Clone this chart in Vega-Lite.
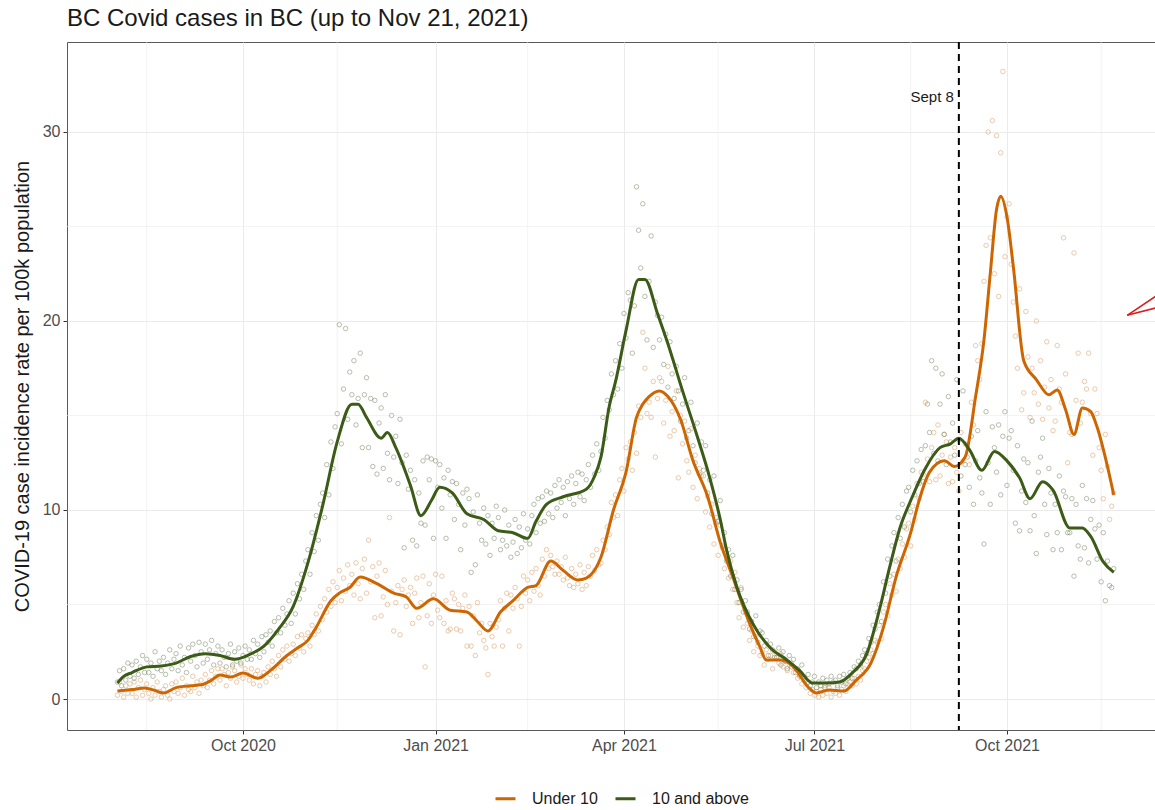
{
  "$schema": "https://vega.github.io/schema/vega-lite/v6.json",
  "width": 1088,
  "height": 688,
  "autosize": "none",
  "padding": {"left": 67, "top": 42, "right": 0, "bottom": 80},
  "background": "white",
  "config": {
    "font": "Liberation Sans",
    "view": {"stroke": "#595959", "strokeWidth": 1},
    "axis": {
      "grid": true,
      "gridColor": "#ebebeb",
      "gridWidth": 1,
      "domain": false,
      "tickColor": "#333333",
      "tickSize": 4,
      "labelFontSize": 16,
      "labelColor": "#4d4d4d",
      "labelPadding": 3,
      "titleFontSize": 20,
      "titleFontWeight": "normal",
      "titleColor": "#1a1a1a"
    }
  },
  "title": {
    "text": "BC Covid cases in BC (up to Nov 21, 2021)",
    "anchor": "start",
    "frame": "group",
    "fontSize": 24,
    "fontWeight": "normal",
    "color": "#1a1a1a",
    "offset": 10
  },
  "datasets": {
    "daily": [
      {"date":"2020-08-02","under10":0.2,"above10":0.9},
      {"date":"2020-08-03","under10":0.9,"above10":1.5},
      {"date":"2020-08-04","under10":0.4,"above10":0.7},
      {"date":"2020-08-05","under10":0.1,"above10":1.6},
      {"date":"2020-08-06","under10":0.7,"above10":1.0},
      {"date":"2020-08-07","under10":0.3,"above10":1.9},
      {"date":"2020-08-08","under10":0.8,"above10":1.2},
      {"date":"2020-08-09","under10":0.3,"above10":1.8},
      {"date":"2020-08-10","under10":0.9,"above10":1.1},
      {"date":"2020-08-11","under10":0.1,"above10":2.0},
      {"date":"2020-08-12","under10":0.6,"above10":1.3},
      {"date":"2020-08-13","under10":1.0,"above10":1.7},
      {"date":"2020-08-14","under10":0.2,"above10":2.3},
      {"date":"2020-08-15","under10":0.5,"above10":1.4},
      {"date":"2020-08-16","under10":0.8,"above10":2.1},
      {"date":"2020-08-17","under10":0.3,"above10":1.4},
      {"date":"2020-08-18","under10":0.0,"above10":1.9},
      {"date":"2020-08-19","under10":0.6,"above10":1.2},
      {"date":"2020-08-20","under10":0.2,"above10":2.5},
      {"date":"2020-08-21","under10":0.9,"above10":1.6},
      {"date":"2020-08-22","under10":0.4,"above10":2.0},
      {"date":"2020-08-23","under10":0.1,"above10":1.5},
      {"date":"2020-08-24","under10":0.5,"above10":2.2},
      {"date":"2020-08-25","under10":0.7,"above10":1.3},
      {"date":"2020-08-26","under10":0.2,"above10":1.9},
      {"date":"2020-08-27","under10":0.0,"above10":2.6},
      {"date":"2020-08-28","under10":0.8,"above10":1.6},
      {"date":"2020-08-29","under10":0.4,"above10":2.1},
      {"date":"2020-08-30","under10":0.9,"above10":2.4},
      {"date":"2020-08-31","under10":0.3,"above10":1.5},
      {"date":"2020-09-01","under10":0.6,"above10":2.8},
      {"date":"2020-09-02","under10":1.1,"above10":1.8},
      {"date":"2020-09-03","under10":0.2,"above10":2.2},
      {"date":"2020-09-04","under10":0.7,"above10":1.4},
      {"date":"2020-09-05","under10":0.5,"above10":2.7},
      {"date":"2020-09-06","under10":0.4,"above10":2.0},
      {"date":"2020-09-07","under10":1.2,"above10":2.9},
      {"date":"2020-09-08","under10":0.6,"above10":2.3},
      {"date":"2020-09-09","under10":0.9,"above10":1.7},
      {"date":"2020-09-10","under10":0.3,"above10":3.0},
      {"date":"2020-09-11","under10":1.0,"above10":2.5},
      {"date":"2020-09-12","under10":0.7,"above10":1.9},
      {"date":"2020-09-13","under10":1.3,"above10":2.9},
      {"date":"2020-09-14","under10":0.6,"above10":2.1},
      {"date":"2020-09-15","under10":1.0,"above10":2.6},
      {"date":"2020-09-16","under10":1.5,"above10":3.1},
      {"date":"2020-09-17","under10":0.8,"above10":1.8},
      {"date":"2020-09-18","under10":1.2,"above10":2.4},
      {"date":"2020-09-19","under10":1.6,"above10":2.8},
      {"date":"2020-09-20","under10":1.0,"above10":1.9},
      {"date":"2020-09-21","under10":1.6,"above10":2.6},
      {"date":"2020-09-22","under10":1.3,"above10":2.2},
      {"date":"2020-09-23","under10":0.7,"above10":1.7},
      {"date":"2020-09-24","under10":1.4,"above10":2.4},
      {"date":"2020-09-25","under10":1.1,"above10":2.9},
      {"date":"2020-09-26","under10":1.7,"above10":1.8},
      {"date":"2020-09-27","under10":1.5,"above10":2.5},
      {"date":"2020-09-28","under10":0.9,"above10":2.0},
      {"date":"2020-09-29","under10":1.2,"above10":2.7},
      {"date":"2020-09-30","under10":1.8,"above10":1.9},
      {"date":"2020-10-01","under10":1.1,"above10":2.3},
      {"date":"2020-10-02","under10":1.6,"above10":2.8},
      {"date":"2020-10-03","under10":1.3,"above10":2.1},
      {"date":"2020-10-04","under10":1.0,"above10":2.6},
      {"date":"2020-10-05","under10":1.6,"above10":2.1},
      {"date":"2020-10-06","under10":0.8,"above10":3.1},
      {"date":"2020-10-07","under10":1.3,"above10":2.4},
      {"date":"2020-10-08","under10":1.5,"above10":2.9},
      {"date":"2020-10-09","under10":0.7,"above10":2.2},
      {"date":"2020-10-10","under10":1.2,"above10":3.3},
      {"date":"2020-10-11","under10":1.4,"above10":2.5},
      {"date":"2020-10-12","under10":0.9,"above10":3.4},
      {"date":"2020-10-13","under10":1.7,"above10":3.0},
      {"date":"2020-10-14","under10":1.3,"above10":3.6},
      {"date":"2020-10-15","under10":2.0,"above10":2.8},
      {"date":"2020-10-16","under10":1.6,"above10":4.1},
      {"date":"2020-10-17","under10":1.2,"above10":3.5},
      {"date":"2020-10-18","under10":2.3,"above10":4.3},
      {"date":"2020-10-19","under10":1.7,"above10":3.5},
      {"date":"2020-10-20","under10":2.6,"above10":4.8},
      {"date":"2020-10-21","under10":2.1,"above10":3.9},
      {"date":"2020-10-22","under10":2.8,"above10":4.5},
      {"date":"2020-10-23","under10":2.0,"above10":5.2},
      {"date":"2020-10-24","under10":2.4,"above10":4.0},
      {"date":"2020-10-25","under10":2.9,"above10":5.6},
      {"date":"2020-10-26","under10":2.3,"above10":4.5},
      {"date":"2020-10-27","under10":3.3,"above10":6.1},
      {"date":"2020-10-28","under10":2.7,"above10":5.3},
      {"date":"2020-10-29","under10":3.4,"above10":6.6},
      {"date":"2020-10-30","under10":2.5,"above10":5.8},
      {"date":"2020-10-31","under10":3.2,"above10":7.3},
      {"date":"2020-11-01","under10":3.5,"above10":7.9},
      {"date":"2020-11-02","under10":2.8,"above10":6.6},
      {"date":"2020-11-03","under10":3.9,"above10":8.8},
      {"date":"2020-11-04","under10":3.4,"above10":7.8},
      {"date":"2020-11-05","under10":4.5,"above10":9.7},
      {"date":"2020-11-06","under10":3.6,"above10":8.4},
      {"date":"2020-11-07","under10":4.9,"above10":10.3},
      {"date":"2020-11-08","under10":4.2,"above10":10.9},
      {"date":"2020-11-09","under10":5.3,"above10":9.6},
      {"date":"2020-11-10","under10":4.6,"above10":12.4},
      {"date":"2020-11-11","under10":5.8,"above10":10.8},
      {"date":"2020-11-12","under10":4.9,"above10":13.6},
      {"date":"2020-11-13","under10":6.2,"above10":12.2},
      {"date":"2020-11-14","under10":5.1,"above10":14.4},
      {"date":"2020-11-15","under10":5.9,"above10":15.1},
      {"date":"2020-11-16","under10":6.8,"above10":19.8},
      {"date":"2020-11-17","under10":5.2,"above10":13.5},
      {"date":"2020-11-18","under10":6.4,"above10":16.4},
      {"date":"2020-11-19","under10":5.7,"above10":19.6},
      {"date":"2020-11-20","under10":7.1,"above10":14.8},
      {"date":"2020-11-21","under10":6.0,"above10":17.3},
      {"date":"2020-11-22","under10":6.6,"above10":16.1},
      {"date":"2020-11-23","under10":5.5,"above10":17.9},
      {"date":"2020-11-24","under10":7.2,"above10":14.5},
      {"date":"2020-11-25","under10":6.1,"above10":15.9},
      {"date":"2020-11-26","under10":5.3,"above10":18.3},
      {"date":"2020-11-27","under10":6.9,"above10":13.3},
      {"date":"2020-11-28","under10":7.4,"above10":16.1},
      {"date":"2020-11-29","under10":5.6,"above10":17.0},
      {"date":"2020-11-30","under10":8.4,"above10":13.3},
      {"date":"2020-12-01","under10":6.2,"above10":15.9},
      {"date":"2020-12-02","under10":7.0,"above10":12.3},
      {"date":"2020-12-03","under10":4.3,"above10":15.8},
      {"date":"2020-12-04","under10":6.5,"above10":11.9},
      {"date":"2020-12-05","under10":7.2,"above10":14.6},
      {"date":"2020-12-06","under10":4.4,"above10":15.4},
      {"date":"2020-12-07","under10":5.4,"above10":12.2},
      {"date":"2020-12-08","under10":6.8,"above10":16.1},
      {"date":"2020-12-09","under10":5.0,"above10":13.0},
      {"date":"2020-12-10","under10":9.6,"above10":11.6},
      {"date":"2020-12-11","under10":5.7,"above10":15.0},
      {"date":"2020-12-12","under10":3.6,"above10":12.8},
      {"date":"2020-12-13","under10":5.1,"above10":13.9},
      {"date":"2020-12-14","under10":6.0,"above10":11.4},
      {"date":"2020-12-15","under10":3.4,"above10":14.8},
      {"date":"2020-12-16","under10":5.8,"above10":12.5},
      {"date":"2020-12-17","under10":6.3,"above10":8.0},
      {"date":"2020-12-18","under10":4.9,"above10":12.9},
      {"date":"2020-12-19","under10":5.5,"above10":11.1},
      {"date":"2020-12-20","under10":5.9,"above10":12.1},
      {"date":"2020-12-21","under10":4.0,"above10":8.4},
      {"date":"2020-12-22","under10":5.6,"above10":11.6},
      {"date":"2020-12-23","under10":6.4,"above10":8.1},
      {"date":"2020-12-24","under10":4.3,"above10":10.9},
      {"date":"2020-12-25","under10":5.1,"above10":9.3},
      {"date":"2020-12-26","under10":6.5,"above10":12.6},
      {"date":"2020-12-27","under10":1.7,"above10":9.2},
      {"date":"2020-12-28","under10":4.4,"above10":12.8},
      {"date":"2020-12-29","under10":6.1,"above10":11.6},
      {"date":"2020-12-30","under10":4.0,"above10":12.7},
      {"date":"2020-12-31","under10":5.5,"above10":8.5},
      {"date":"2021-01-01","under10":6.6,"above10":12.6},
      {"date":"2021-01-02","under10":4.7,"above10":11.2},
      {"date":"2021-01-03","under10":4.3,"above10":12.4},
      {"date":"2021-01-04","under10":6.5,"above10":10.1},
      {"date":"2021-01-05","under10":4.0,"above10":11.7},
      {"date":"2021-01-06","under10":5.2,"above10":8.5},
      {"date":"2021-01-07","under10":3.6,"above10":12.1},
      {"date":"2021-01-08","under10":3.7,"above10":10.8},
      {"date":"2021-01-09","under10":5.6,"above10":11.5},
      {"date":"2021-01-10","under10":5.3,"above10":9.5},
      {"date":"2021-01-11","under10":3.7,"above10":11.4},
      {"date":"2021-01-12","under10":5.0,"above10":10.3},
      {"date":"2021-01-13","under10":3.6,"above10":7.9},
      {"date":"2021-01-14","under10":4.8,"above10":10.9},
      {"date":"2021-01-15","under10":5.5,"above10":9.2},
      {"date":"2021-01-16","under10":2.8,"above10":11.1},
      {"date":"2021-01-17","under10":4.9,"above10":10.6},
      {"date":"2021-01-18","under10":2.8,"above10":6.7},
      {"date":"2021-01-19","under10":4.4,"above10":9.9},
      {"date":"2021-01-20","under10":2.3,"above10":7.1},
      {"date":"2021-01-21","under10":5.1,"above10":10.8},
      {"date":"2021-01-22","under10":3.5,"above10":9.3},
      {"date":"2021-01-23","under10":4.0,"above10":8.4},
      {"date":"2021-01-24","under10":3.1,"above10":10.1},
      {"date":"2021-01-25","under10":2.7,"above10":8.2},
      {"date":"2021-01-26","under10":1.3,"above10":9.7},
      {"date":"2021-01-27","under10":4.0,"above10":7.6},
      {"date":"2021-01-28","under10":3.3,"above10":9.3},
      {"date":"2021-01-29","under10":2.8,"above10":8.5},
      {"date":"2021-01-30","under10":3.8,"above10":10.2},
      {"date":"2021-01-31","under10":4.2,"above10":9.6},
      {"date":"2021-02-01","under10":5.2,"above10":7.9},
      {"date":"2021-02-02","under10":2.8,"above10":8.4},
      {"date":"2021-02-03","under10":4.8,"above10":10.0},
      {"date":"2021-02-04","under10":5.6,"above10":8.1},
      {"date":"2021-02-05","under10":3.6,"above10":9.2},
      {"date":"2021-02-06","under10":5.5,"above10":7.5},
      {"date":"2021-02-07","under10":4.8,"above10":8.3},
      {"date":"2021-02-08","under10":5.9,"above10":9.5},
      {"date":"2021-02-09","under10":5.3,"above10":7.7},
      {"date":"2021-02-10","under10":2.8,"above10":9.1},
      {"date":"2021-02-11","under10":4.9,"above10":8.0},
      {"date":"2021-02-12","under10":6.5,"above10":9.8},
      {"date":"2021-02-13","under10":5.6,"above10":8.4},
      {"date":"2021-02-14","under10":6.3,"above10":9.0},
      {"date":"2021-02-15","under10":5.2,"above10":8.2},
      {"date":"2021-02-16","under10":6.7,"above10":9.7},
      {"date":"2021-02-17","under10":5.7,"above10":10.3},
      {"date":"2021-02-18","under10":6.9,"above10":8.8},
      {"date":"2021-02-19","under10":6.0,"above10":10.6},
      {"date":"2021-02-20","under10":5.5,"above10":9.3},
      {"date":"2021-02-21","under10":7.4,"above10":10.7},
      {"date":"2021-02-22","under10":6.5,"above10":9.4},
      {"date":"2021-02-23","under10":7.9,"above10":11.0},
      {"date":"2021-02-24","under10":6.9,"above10":9.8},
      {"date":"2021-02-25","under10":7.6,"above10":10.9},
      {"date":"2021-02-26","under10":7.0,"above10":9.6},
      {"date":"2021-02-27","under10":6.6,"above10":11.3},
      {"date":"2021-02-28","under10":7.3,"above10":10.1},
      {"date":"2021-03-01","under10":6.6,"above10":11.6},
      {"date":"2021-03-02","under10":7.0,"above10":10.4},
      {"date":"2021-03-03","under10":6.3,"above10":11.2},
      {"date":"2021-03-04","under10":7.5,"above10":9.7},
      {"date":"2021-03-05","under10":6.4,"above10":11.5},
      {"date":"2021-03-06","under10":6.0,"above10":10.6},
      {"date":"2021-03-07","under10":6.9,"above10":11.8},
      {"date":"2021-03-08","under10":5.9,"above10":10.3},
      {"date":"2021-03-09","under10":6.6,"above10":11.4},
      {"date":"2021-03-10","under10":6.1,"above10":12.0},
      {"date":"2021-03-11","under10":7.1,"above10":10.7},
      {"date":"2021-03-12","under10":5.8,"above10":11.9},
      {"date":"2021-03-13","under10":6.7,"above10":10.5},
      {"date":"2021-03-14","under10":6.0,"above10":11.6},
      {"date":"2021-03-15","under10":7.0,"above10":12.4},
      {"date":"2021-03-16","under10":6.5,"above10":11.2},
      {"date":"2021-03-17","under10":7.6,"above10":12.9},
      {"date":"2021-03-18","under10":6.8,"above10":11.9},
      {"date":"2021-03-19","under10":7.9,"above10":13.5},
      {"date":"2021-03-20","under10":7.1,"above10":12.1},
      {"date":"2021-03-21","under10":7.2,"above10":13.1},
      {"date":"2021-03-22","under10":8.4,"above10":14.9},
      {"date":"2021-03-23","under10":7.9,"above10":13.8},
      {"date":"2021-03-24","under10":9.1,"above10":15.8},
      {"date":"2021-03-25","under10":8.7,"above10":15.3},
      {"date":"2021-03-26","under10":10.4,"above10":17.2},
      {"date":"2021-03-27","under10":9.6,"above10":16.1},
      {"date":"2021-03-28","under10":10.8,"above10":17.9},
      {"date":"2021-03-29","under10":9.7,"above10":16.4},
      {"date":"2021-03-30","under10":11.6,"above10":18.8},
      {"date":"2021-03-31","under10":12.2,"above10":17.5},
      {"date":"2021-04-01","under10":11.0,"above10":20.4},
      {"date":"2021-04-02","under10":13.3,"above10":19.1},
      {"date":"2021-04-03","under10":12.7,"above10":21.5},
      {"date":"2021-04-04","under10":13.6,"above10":21.1},
      {"date":"2021-04-05","under10":12.1,"above10":18.3},
      {"date":"2021-04-06","under10":14.1,"above10":20.8},
      {"date":"2021-04-07","under10":13.0,"above10":27.1},
      {"date":"2021-04-08","under10":15.5,"above10":24.8},
      {"date":"2021-04-09","under10":14.9,"above10":22.8},
      {"date":"2021-04-10","under10":19.4,"above10":26.2},
      {"date":"2021-04-11","under10":17.5,"above10":21.3},
      {"date":"2021-04-12","under10":15.1,"above10":19.0},
      {"date":"2021-04-13","under10":15.7,"above10":22.1},
      {"date":"2021-04-14","under10":14.9,"above10":24.5},
      {"date":"2021-04-15","under10":16.8,"above10":18.6},
      {"date":"2021-04-16","under10":12.8,"above10":21.0},
      {"date":"2021-04-17","under10":15.9,"above10":20.3},
      {"date":"2021-04-18","under10":17.0,"above10":19.0},
      {"date":"2021-04-19","under10":16.8,"above10":20.2},
      {"date":"2021-04-20","under10":14.6,"above10":17.7},
      {"date":"2021-04-21","under10":15.8,"above10":19.3},
      {"date":"2021-04-22","under10":17.6,"above10":16.5},
      {"date":"2021-04-23","under10":13.9,"above10":18.9},
      {"date":"2021-04-24","under10":15.2,"above10":17.2},
      {"date":"2021-04-25","under10":14.2,"above10":15.9},
      {"date":"2021-04-26","under10":16.3,"above10":17.6},
      {"date":"2021-04-27","under10":11.7,"above10":16.3},
      {"date":"2021-04-28","under10":15.0,"above10":14.7},
      {"date":"2021-04-29","under10":13.5,"above10":15.6},
      {"date":"2021-04-30","under10":14.7,"above10":17.0},
      {"date":"2021-05-01","under10":12.6,"above10":13.8},
      {"date":"2021-05-02","under10":12.0,"above10":14.2},
      {"date":"2021-05-03","under10":14.3,"above10":15.7},
      {"date":"2021-05-04","under10":11.2,"above10":13.4},
      {"date":"2021-05-05","under10":12.9,"above10":12.5},
      {"date":"2021-05-06","under10":10.6,"above10":14.6},
      {"date":"2021-05-07","under10":12.2,"above10":11.9},
      {"date":"2021-05-08","under10":11.8,"above10":13.6},
      {"date":"2021-05-09","under10":11.8,"above10":12.1},
      {"date":"2021-05-10","under10":9.9,"above10":13.4},
      {"date":"2021-05-11","under10":10.7,"above10":10.9},
      {"date":"2021-05-12","under10":9.1,"above10":11.6},
      {"date":"2021-05-13","under10":10.3,"above10":9.8},
      {"date":"2021-05-14","under10":8.2,"above10":11.8},
      {"date":"2021-05-15","under10":9.6,"above10":9.3},
      {"date":"2021-05-16","under10":7.6,"above10":9.4},
      {"date":"2021-05-17","under10":9.2,"above10":10.5},
      {"date":"2021-05-18","under10":8.0,"above10":8.1},
      {"date":"2021-05-19","under10":6.9,"above10":8.8},
      {"date":"2021-05-20","under10":7.7,"above10":7.3},
      {"date":"2021-05-21","under10":6.4,"above10":7.9},
      {"date":"2021-05-22","under10":7.3,"above10":6.5},
      {"date":"2021-05-23","under10":5.8,"above10":7.6},
      {"date":"2021-05-24","under10":6.7,"above10":5.8},
      {"date":"2021-05-25","under10":5.1,"above10":6.3},
      {"date":"2021-05-26","under10":4.3,"above10":5.1},
      {"date":"2021-05-27","under10":5.9,"above10":5.8},
      {"date":"2021-05-28","under10":3.8,"above10":4.6},
      {"date":"2021-05-29","under10":4.6,"above10":5.2},
      {"date":"2021-05-30","under10":4.0,"above10":4.6},
      {"date":"2021-05-31","under10":3.1,"above10":3.7},
      {"date":"2021-06-01","under10":3.6,"above10":4.1},
      {"date":"2021-06-02","under10":2.5,"above10":3.3},
      {"date":"2021-06-03","under10":3.3,"above10":4.4},
      {"date":"2021-06-04","under10":2.8,"above10":3.0},
      {"date":"2021-06-05","under10":2.3,"above10":3.6},
      {"date":"2021-06-06","under10":2.4,"above10":3.5},
      {"date":"2021-06-07","under10":1.8,"above10":2.8},
      {"date":"2021-06-08","under10":2.6,"above10":3.1},
      {"date":"2021-06-09","under10":2.1,"above10":2.3},
      {"date":"2021-06-10","under10":2.3,"above10":2.9},
      {"date":"2021-06-11","under10":1.6,"above10":2.6},
      {"date":"2021-06-12","under10":2.5,"above10":2.2},
      {"date":"2021-06-13","under10":2.2,"above10":2.2},
      {"date":"2021-06-14","under10":1.9,"above10":2.7},
      {"date":"2021-06-15","under10":2.4,"above10":1.8},
      {"date":"2021-06-16","under10":1.7,"above10":2.5},
      {"date":"2021-06-17","under10":2.0,"above10":2.0},
      {"date":"2021-06-18","under10":1.5,"above10":1.6},
      {"date":"2021-06-19","under10":1.8,"above10":2.3},
      {"date":"2021-06-20","under10":1.9,"above10":1.7},
      {"date":"2021-06-21","under10":1.4,"above10":2.1},
      {"date":"2021-06-22","under10":1.6,"above10":1.4},
      {"date":"2021-06-23","under10":1.1,"above10":1.6},
      {"date":"2021-06-24","under10":1.3,"above10":1.2},
      {"date":"2021-06-25","under10":0.8,"above10":1.8},
      {"date":"2021-06-26","under10":1.0,"above10":1.1},
      {"date":"2021-06-27","under10":0.6,"above10":1.0},
      {"date":"2021-06-28","under10":0.9,"above10":1.3},
      {"date":"2021-06-29","under10":0.3,"above10":0.7},
      {"date":"2021-06-30","under10":0.5,"above10":0.9},
      {"date":"2021-07-01","under10":0.2,"above10":1.2},
      {"date":"2021-07-02","under10":0.4,"above10":0.6},
      {"date":"2021-07-03","under10":0.1,"above10":0.9},
      {"date":"2021-07-04","under10":0.5,"above10":0.7},
      {"date":"2021-07-05","under10":0.2,"above10":1.1},
      {"date":"2021-07-06","under10":0.7,"above10":0.6},
      {"date":"2021-07-07","under10":0.3,"above10":1.0},
      {"date":"2021-07-08","under10":0.6,"above10":0.8},
      {"date":"2021-07-09","under10":0.1,"above10":1.2},
      {"date":"2021-07-10","under10":0.4,"above10":0.9},
      {"date":"2021-07-11","under10":0.3,"above10":1.0},
      {"date":"2021-07-12","under10":0.6,"above10":0.7},
      {"date":"2021-07-13","under10":0.2,"above10":1.2},
      {"date":"2021-07-14","under10":0.5,"above10":0.9},
      {"date":"2021-07-15","under10":0.7,"above10":1.3},
      {"date":"2021-07-16","under10":0.4,"above10":0.8},
      {"date":"2021-07-17","under10":0.8,"above10":1.1},
      {"date":"2021-07-18","under10":0.9,"above10":1.4},
      {"date":"2021-07-19","under10":0.7,"above10":1.1},
      {"date":"2021-07-20","under10":1.1,"above10":1.7},
      {"date":"2021-07-21","under10":0.8,"above10":1.6},
      {"date":"2021-07-22","under10":1.2,"above10":2.0},
      {"date":"2021-07-23","under10":1.0,"above10":1.8},
      {"date":"2021-07-24","under10":1.5,"above10":2.3},
      {"date":"2021-07-25","under10":1.6,"above10":2.6},
      {"date":"2021-07-26","under10":2.0,"above10":2.4},
      {"date":"2021-07-27","under10":2.2,"above10":3.2},
      {"date":"2021-07-28","under10":2.6,"above10":3.0},
      {"date":"2021-07-29","under10":2.4,"above10":3.9},
      {"date":"2021-07-30","under10":3.1,"above10":3.7},
      {"date":"2021-07-31","under10":3.0,"above10":4.6},
      {"date":"2021-08-01","under10":3.9,"above10":5.0},
      {"date":"2021-08-02","under10":3.2,"above10":4.1},
      {"date":"2021-08-03","under10":4.6,"above10":6.2},
      {"date":"2021-08-04","under10":5.0,"above10":5.6},
      {"date":"2021-08-05","under10":4.4,"above10":7.4},
      {"date":"2021-08-06","under10":6.1,"above10":6.5},
      {"date":"2021-08-07","under10":5.5,"above10":8.1},
      {"date":"2021-08-08","under10":6.6,"above10":8.8},
      {"date":"2021-08-09","under10":5.7,"above10":7.3},
      {"date":"2021-08-10","under10":7.4,"above10":9.6},
      {"date":"2021-08-11","under10":6.9,"above10":8.5},
      {"date":"2021-08-12","under10":8.2,"above10":10.3},
      {"date":"2021-08-13","under10":7.5,"above10":9.1},
      {"date":"2021-08-14","under10":9.0,"above10":11.0},
      {"date":"2021-08-15","under10":9.3,"above10":11.2},
      {"date":"2021-08-16","under10":8.1,"above10":9.9},
      {"date":"2021-08-17","under10":10.2,"above10":12.1},
      {"date":"2021-08-18","under10":9.5,"above10":10.8},
      {"date":"2021-08-19","under10":11.4,"above10":12.6},
      {"date":"2021-08-20","under10":10.6,"above10":11.4},
      {"date":"2021-08-21","under10":12.0,"above10":13.2},
      {"date":"2021-08-22","under10":11.9,"above10":11.5},
      {"date":"2021-08-23","under10":15.7,"above10":13.4},
      {"date":"2021-08-24","under10":12.7,"above10":15.6},
      {"date":"2021-08-25","under10":11.5,"above10":14.1},
      {"date":"2021-08-26","under10":13.3,"above10":17.9},
      {"date":"2021-08-27","under10":14.1,"above10":13.0},
      {"date":"2021-08-28","under10":11.6,"above10":17.5},
      {"date":"2021-08-29","under10":14.5,"above10":12.6},
      {"date":"2021-08-30","under10":11.8,"above10":15.6},
      {"date":"2021-08-31","under10":12.9,"above10":17.2},
      {"date":"2021-09-01","under10":14.0,"above10":14.0},
      {"date":"2021-09-02","under10":13.6,"above10":12.4},
      {"date":"2021-09-03","under10":11.4,"above10":16.0},
      {"date":"2021-09-04","under10":12.8,"above10":13.6},
      {"date":"2021-09-05","under10":11.5,"above10":14.6},
      {"date":"2021-09-06","under10":13.3,"above10":12.9},
      {"date":"2021-09-07","under10":12.0,"above10":16.9},
      {"date":"2021-09-08","under10":11.0,"above10":13.7},
      {"date":"2021-09-09","under10":14.1,"above10":11.8},
      {"date":"2021-09-10","under10":12.6,"above10":16.3},
      {"date":"2021-09-11","under10":13.5,"above10":12.4},
      {"date":"2021-09-12","under10":13.4,"above10":12.8},
      {"date":"2021-09-13","under10":12.4,"above10":11.2},
      {"date":"2021-09-14","under10":15.7,"above10":13.9},
      {"date":"2021-09-15","under10":14.5,"above10":10.3},
      {"date":"2021-09-16","under10":18.7,"above10":12.6},
      {"date":"2021-09-17","under10":17.9,"above10":14.2},
      {"date":"2021-09-18","under10":16.9,"above10":11.7},
      {"date":"2021-09-19","under10":18.8,"above10":10.9},
      {"date":"2021-09-20","under10":22.1,"above10":8.2},
      {"date":"2021-09-21","under10":24.0,"above10":15.2},
      {"date":"2021-09-22","under10":30.0,"above10":12.5},
      {"date":"2021-09-23","under10":24.4,"above10":10.3},
      {"date":"2021-09-24","under10":30.6,"above10":14.4},
      {"date":"2021-09-25","under10":22.5,"above10":13.3},
      {"date":"2021-09-26","under10":29.8,"above10":12.0},
      {"date":"2021-09-27","under10":21.3,"above10":14.5},
      {"date":"2021-09-28","under10":28.9,"above10":10.8},
      {"date":"2021-09-29","under10":33.2,"above10":13.9},
      {"date":"2021-09-30","under10":23.4,"above10":15.2},
      {"date":"2021-10-01","under10":25.5,"above10":11.3},
      {"date":"2021-10-02","under10":26.2,"above10":13.8},
      {"date":"2021-10-03","under10":23.0,"above10":14.2},
      {"date":"2021-10-04","under10":21.0,"above10":12.1},
      {"date":"2021-10-05","under10":19.2,"above10":9.3},
      {"date":"2021-10-06","under10":17.5,"above10":13.4},
      {"date":"2021-10-07","under10":21.7,"above10":8.9},
      {"date":"2021-10-08","under10":15.3,"above10":11.0},
      {"date":"2021-10-09","under10":16.2,"above10":12.7},
      {"date":"2021-10-10","under10":20.5,"above10":10.4},
      {"date":"2021-10-11","under10":18.1,"above10":12.5},
      {"date":"2021-10-12","under10":14.9,"above10":8.9},
      {"date":"2021-10-13","under10":17.5,"above10":14.7},
      {"date":"2021-10-14","under10":16.2,"above10":9.7},
      {"date":"2021-10-15","under10":20.0,"above10":7.7},
      {"date":"2021-10-16","under10":15.6,"above10":12.0},
      {"date":"2021-10-17","under10":17.9,"above10":12.8},
      {"date":"2021-10-18","under10":14.8,"above10":13.8},
      {"date":"2021-10-19","under10":16.5,"above10":10.3},
      {"date":"2021-10-20","under10":18.9,"above10":8.7},
      {"date":"2021-10-21","under10":15.4,"above10":12.2},
      {"date":"2021-10-22","under10":16.9,"above10":10.9},
      {"date":"2021-10-23","under10":14.2,"above10":7.9},
      {"date":"2021-10-24","under10":14.7,"above10":10.3},
      {"date":"2021-10-25","under10":18.7,"above10":8.8},
      {"date":"2021-10-26","under10":16.4,"above10":11.8},
      {"date":"2021-10-27","under10":15.7,"above10":7.9},
      {"date":"2021-10-28","under10":24.4,"above10":11.0},
      {"date":"2021-10-29","under10":17.2,"above10":10.7},
      {"date":"2021-10-30","under10":12.5,"above10":8.8},
      {"date":"2021-10-31","under10":14.1,"above10":8.8},
      {"date":"2021-11-01","under10":14.0,"above10":10.6},
      {"date":"2021-11-02","under10":23.6,"above10":6.5},
      {"date":"2021-11-03","under10":15.8,"above10":10.3},
      {"date":"2021-11-04","under10":18.3,"above10":8.1},
      {"date":"2021-11-05","under10":14.6,"above10":7.4},
      {"date":"2021-11-06","under10":15.7,"above10":11.3},
      {"date":"2021-11-07","under10":16.8,"above10":8.0},
      {"date":"2021-11-08","under10":16.4,"above10":10.6},
      {"date":"2021-11-09","under10":18.3,"above10":7.2},
      {"date":"2021-11-10","under10":15.1,"above10":9.5},
      {"date":"2021-11-11","under10":12.9,"above10":10.5},
      {"date":"2021-11-12","under10":16.4,"above10":9.0},
      {"date":"2021-11-13","under10":15.1,"above10":7.4},
      {"date":"2021-11-14","under10":13.3,"above10":9.2},
      {"date":"2021-11-15","under10":12.1,"above10":6.2},
      {"date":"2021-11-16","under10":10.6,"above10":8.8},
      {"date":"2021-11-17","under10":14.0,"above10":5.2},
      {"date":"2021-11-18","under10":12.3,"above10":7.3},
      {"date":"2021-11-19","under10":9.5,"above10":6.0},
      {"date":"2021-11-20","under10":10.2,"above10":5.9},
      {"date":"2021-11-21","under10":10.9,"above10":6.9}
    ],
    "smooth": [
      {"date":"2020-08-02","group":"under10","rate":0.42},
      {"date":"2020-08-09","group":"under10","rate":0.5},
      {"date":"2020-08-15","group":"under10","rate":0.58},
      {"date":"2020-08-20","group":"under10","rate":0.45},
      {"date":"2020-08-24","group":"under10","rate":0.32},
      {"date":"2020-08-30","group":"under10","rate":0.6},
      {"date":"2020-09-06","group":"under10","rate":0.7},
      {"date":"2020-09-11","group":"under10","rate":0.75},
      {"date":"2020-09-16","group":"under10","rate":1.0},
      {"date":"2020-09-20","group":"under10","rate":1.27},
      {"date":"2020-09-25","group":"under10","rate":1.16},
      {"date":"2020-10-01","group":"under10","rate":1.37},
      {"date":"2020-10-08","group":"under10","rate":1.1},
      {"date":"2020-10-14","group":"under10","rate":1.5},
      {"date":"2020-10-22","group":"under10","rate":2.3},
      {"date":"2020-10-27","group":"under10","rate":2.7},
      {"date":"2020-11-01","group":"under10","rate":3.1},
      {"date":"2020-11-05","group":"under10","rate":3.8},
      {"date":"2020-11-12","group":"under10","rate":5.2},
      {"date":"2020-11-16","group":"under10","rate":5.6},
      {"date":"2020-11-21","group":"under10","rate":5.9},
      {"date":"2020-11-26","group":"under10","rate":6.45},
      {"date":"2020-12-04","group":"under10","rate":6.1},
      {"date":"2020-12-12","group":"under10","rate":5.6},
      {"date":"2020-12-18","group":"under10","rate":5.4},
      {"date":"2020-12-23","group":"under10","rate":4.8},
      {"date":"2020-12-31","group":"under10","rate":5.3},
      {"date":"2021-01-08","group":"under10","rate":4.7},
      {"date":"2021-01-16","group":"under10","rate":4.6},
      {"date":"2021-01-21","group":"under10","rate":4.1},
      {"date":"2021-01-26","group":"under10","rate":3.6},
      {"date":"2021-02-01","group":"under10","rate":4.6},
      {"date":"2021-02-07","group":"under10","rate":5.2},
      {"date":"2021-02-14","group":"under10","rate":5.9},
      {"date":"2021-02-18","group":"under10","rate":6.0},
      {"date":"2021-02-25","group":"under10","rate":7.3},
      {"date":"2021-03-03","group":"under10","rate":6.8},
      {"date":"2021-03-10","group":"under10","rate":6.3},
      {"date":"2021-03-14","group":"under10","rate":6.4},
      {"date":"2021-03-21","group":"under10","rate":7.5},
      {"date":"2021-03-27","group":"under10","rate":10.0},
      {"date":"2021-04-02","group":"under10","rate":12.0},
      {"date":"2021-04-07","group":"under10","rate":14.9},
      {"date":"2021-04-10","group":"under10","rate":15.6},
      {"date":"2021-04-13","group":"under10","rate":16.0},
      {"date":"2021-04-18","group":"under10","rate":16.3},
      {"date":"2021-04-22","group":"under10","rate":16.0},
      {"date":"2021-04-28","group":"under10","rate":14.8},
      {"date":"2021-05-04","group":"under10","rate":12.6},
      {"date":"2021-05-11","group":"under10","rate":10.7},
      {"date":"2021-05-17","group":"under10","rate":8.3},
      {"date":"2021-05-23","group":"under10","rate":6.45},
      {"date":"2021-05-31","group":"under10","rate":4.0},
      {"date":"2021-06-05","group":"under10","rate":2.75},
      {"date":"2021-06-08","group":"under10","rate":2.06},
      {"date":"2021-06-15","group":"under10","rate":2.06},
      {"date":"2021-06-21","group":"under10","rate":1.7},
      {"date":"2021-06-28","group":"under10","rate":0.63},
      {"date":"2021-07-02","group":"under10","rate":0.32},
      {"date":"2021-07-08","group":"under10","rate":0.48},
      {"date":"2021-07-15","group":"under10","rate":0.42},
      {"date":"2021-07-21","group":"under10","rate":1.0},
      {"date":"2021-07-28","group":"under10","rate":1.9},
      {"date":"2021-08-03","group":"under10","rate":3.8},
      {"date":"2021-08-09","group":"under10","rate":6.45},
      {"date":"2021-08-16","group":"under10","rate":8.8},
      {"date":"2021-08-20","group":"under10","rate":10.5},
      {"date":"2021-08-25","group":"under10","rate":12.0},
      {"date":"2021-09-01","group":"under10","rate":12.6},
      {"date":"2021-09-06","group":"under10","rate":12.3},
      {"date":"2021-09-11","group":"under10","rate":12.8},
      {"date":"2021-09-16","group":"under10","rate":16.0},
      {"date":"2021-09-20","group":"under10","rate":19.0},
      {"date":"2021-09-23","group":"under10","rate":22.5},
      {"date":"2021-09-26","group":"under10","rate":25.9},
      {"date":"2021-09-28","group":"under10","rate":26.6},
      {"date":"2021-10-01","group":"under10","rate":25.5},
      {"date":"2021-10-04","group":"under10","rate":22.9},
      {"date":"2021-10-09","group":"under10","rate":17.9},
      {"date":"2021-10-15","group":"under10","rate":16.9},
      {"date":"2021-10-21","group":"under10","rate":16.1},
      {"date":"2021-10-25","group":"under10","rate":16.35},
      {"date":"2021-10-29","group":"under10","rate":15.3},
      {"date":"2021-11-02","group":"under10","rate":14.0},
      {"date":"2021-11-06","group":"under10","rate":15.4},
      {"date":"2021-11-10","group":"under10","rate":15.2},
      {"date":"2021-11-13","group":"under10","rate":14.4},
      {"date":"2021-11-18","group":"under10","rate":12.3},
      {"date":"2021-11-21","group":"under10","rate":10.8},
      {"date":"2020-08-02","group":"above10","rate":0.85},
      {"date":"2020-08-05","group":"above10","rate":1.2},
      {"date":"2020-08-09","group":"above10","rate":1.4},
      {"date":"2020-08-16","group":"above10","rate":1.7},
      {"date":"2020-08-23","group":"above10","rate":1.75},
      {"date":"2020-08-30","group":"above10","rate":1.9},
      {"date":"2020-09-06","group":"above10","rate":2.25},
      {"date":"2020-09-13","group":"above10","rate":2.4},
      {"date":"2020-09-20","group":"above10","rate":2.3},
      {"date":"2020-09-27","group":"above10","rate":2.1},
      {"date":"2020-10-04","group":"above10","rate":2.35},
      {"date":"2020-10-11","group":"above10","rate":2.8},
      {"date":"2020-10-18","group":"above10","rate":3.7},
      {"date":"2020-10-25","group":"above10","rate":4.9},
      {"date":"2020-11-01","group":"above10","rate":7.2},
      {"date":"2020-11-08","group":"above10","rate":10.2},
      {"date":"2020-11-15","group":"above10","rate":13.6},
      {"date":"2020-11-22","group":"above10","rate":15.6},
      {"date":"2020-11-25","group":"above10","rate":15.6},
      {"date":"2020-11-29","group":"above10","rate":14.9},
      {"date":"2020-12-06","group":"above10","rate":13.8},
      {"date":"2020-12-09","group":"above10","rate":14.1},
      {"date":"2020-12-13","group":"above10","rate":13.3},
      {"date":"2020-12-20","group":"above10","rate":11.3},
      {"date":"2020-12-25","group":"above10","rate":9.7},
      {"date":"2020-12-30","group":"above10","rate":10.5},
      {"date":"2021-01-03","group":"above10","rate":11.2},
      {"date":"2021-01-09","group":"above10","rate":10.9},
      {"date":"2021-01-16","group":"above10","rate":9.8},
      {"date":"2021-01-24","group":"above10","rate":9.5},
      {"date":"2021-01-31","group":"above10","rate":8.9},
      {"date":"2021-02-07","group":"above10","rate":8.8},
      {"date":"2021-02-14","group":"above10","rate":8.5},
      {"date":"2021-02-18","group":"above10","rate":9.4},
      {"date":"2021-02-23","group":"above10","rate":10.3},
      {"date":"2021-03-03","group":"above10","rate":10.7},
      {"date":"2021-03-14","group":"above10","rate":11.1},
      {"date":"2021-03-18","group":"above10","rate":11.8},
      {"date":"2021-03-21","group":"above10","rate":12.8},
      {"date":"2021-03-25","group":"above10","rate":15.5},
      {"date":"2021-03-28","group":"above10","rate":16.8},
      {"date":"2021-04-02","group":"above10","rate":19.5},
      {"date":"2021-04-08","group":"above10","rate":22.2},
      {"date":"2021-04-11","group":"above10","rate":22.2},
      {"date":"2021-04-17","group":"above10","rate":20.4},
      {"date":"2021-04-22","group":"above10","rate":18.8},
      {"date":"2021-04-29","group":"above10","rate":16.3},
      {"date":"2021-05-06","group":"above10","rate":13.9},
      {"date":"2021-05-12","group":"above10","rate":11.7},
      {"date":"2021-05-17","group":"above10","rate":9.5},
      {"date":"2021-05-20","group":"above10","rate":7.9},
      {"date":"2021-05-25","group":"above10","rate":5.9},
      {"date":"2021-06-02","group":"above10","rate":3.9},
      {"date":"2021-06-10","group":"above10","rate":2.7},
      {"date":"2021-06-18","group":"above10","rate":2.06},
      {"date":"2021-06-24","group":"above10","rate":1.5},
      {"date":"2021-06-30","group":"above10","rate":0.85},
      {"date":"2021-07-07","group":"above10","rate":0.85},
      {"date":"2021-07-13","group":"above10","rate":0.9},
      {"date":"2021-07-19","group":"above10","rate":1.37},
      {"date":"2021-07-26","group":"above10","rate":2.4},
      {"date":"2021-08-01","group":"above10","rate":4.7},
      {"date":"2021-08-06","group":"above10","rate":7.0},
      {"date":"2021-08-11","group":"above10","rate":9.1},
      {"date":"2021-08-16","group":"above10","rate":10.5},
      {"date":"2021-08-23","group":"above10","rate":12.2},
      {"date":"2021-08-30","group":"above10","rate":13.3},
      {"date":"2021-09-04","group":"above10","rate":13.5},
      {"date":"2021-09-08","group":"above10","rate":13.8},
      {"date":"2021-09-13","group":"above10","rate":13.2},
      {"date":"2021-09-19","group":"above10","rate":12.1},
      {"date":"2021-09-25","group":"above10","rate":13.1},
      {"date":"2021-10-01","group":"above10","rate":12.6},
      {"date":"2021-10-07","group":"above10","rate":11.7},
      {"date":"2021-10-12","group":"above10","rate":10.6},
      {"date":"2021-10-18","group":"above10","rate":11.5},
      {"date":"2021-10-23","group":"above10","rate":11.05},
      {"date":"2021-10-31","group":"above10","rate":9.05},
      {"date":"2021-11-06","group":"above10","rate":9.05},
      {"date":"2021-11-10","group":"above10","rate":8.6},
      {"date":"2021-11-16","group":"above10","rate":7.25},
      {"date":"2021-11-21","group":"above10","rate":6.7}
    ]
  },
  "layer": [
    {
      "description": "Minor horizontal grid lines",
      "data": {"values": [{"rate": 5}, {"rate": 15}, {"rate": 25}]},
      "mark": {"type": "rule", "color": "#ebebeb", "strokeWidth": 0.6},
      "encoding": {
        "y": {
          "field": "rate", "type": "quantitative",
          "scale": {"domain": [-1.64, 34.76], "nice": false, "zero": false},
          "axis": {"values": [0, 10, 20, 30], "title": "COVID-19 case incidence rate per 100k population", "titlePadding": 10}
        }
      }
    },
    {
      "description": "Minor vertical grid lines",
      "data": {"values": [{"date": "2020-08-16"}, {"date": "2020-11-15"}, {"date": "2021-02-14"}, {"date": "2021-05-16"}, {"date": "2021-08-16"}, {"date": "2021-11-15"}]},
      "mark": {"type": "rule", "color": "#ebebeb", "strokeWidth": 0.6},
      "encoding": {
        "x": {
          "field": "date", "type": "temporal",
          "scale": {"type": "utc", "domain": [{"year": 2020, "month": 7, "date": 8, "hours": 22, "utc": true}, {"year": 2021, "month": 12, "date": 10, "hours": 17, "utc": true}]},
          "axis": {"values": [{"year": 2020, "month": 10, "date": 1, "utc": true}, {"year": 2021, "month": 1, "date": 1, "utc": true}, {"year": 2021, "month": 4, "date": 1, "utc": true}, {"year": 2021, "month": 7, "date": 1, "utc": true}, {"year": 2021, "month": 10, "date": 1, "utc": true}], "format": "%b %Y", "title": null}
        }
      }
    },
    {
      "description": "Daily rates as hollow points",
      "data": {"name": "daily"},
      "transform": [{"fold": ["under10", "above10"], "as": ["series", "rate"]}],
      "mark": {"type": "point", "filled": false, "size": 20, "strokeWidth": 0.9, "strokeOpacity": 0.7},
      "encoding": {
        "x": {
          "field": "date", "type": "temporal",
          "scale": {"type": "utc", "domain": [{"year": 2020, "month": 7, "date": 8, "hours": 22, "utc": true}, {"year": 2021, "month": 12, "date": 10, "hours": 17, "utc": true}]},
          "axis": {"values": [{"year": 2020, "month": 10, "date": 1, "utc": true}, {"year": 2021, "month": 1, "date": 1, "utc": true}, {"year": 2021, "month": 4, "date": 1, "utc": true}, {"year": 2021, "month": 7, "date": 1, "utc": true}, {"year": 2021, "month": 10, "date": 1, "utc": true}], "format": "%b %Y", "title": null}
        },
        "y": {
          "field": "rate", "type": "quantitative",
          "scale": {"domain": [-1.64, 34.76], "nice": false, "zero": false},
          "axis": {"values": [0, 10, 20, 30], "title": "COVID-19 case incidence rate per 100k population", "titlePadding": 10}
        },
        "stroke": {
          "field": "series", "type": "nominal",
          "scale": {"domain": ["above10", "under10"], "range": ["#5f7048", "#D08a4a"]},
          "legend": null
        }
      }
    },
    {
      "description": "Smoothed trend per age group",
      "data": {"name": "smooth"},
      "mark": {"type": "line", "interpolate": "monotone", "strokeWidth": 3},
      "encoding": {
        "x": {
          "field": "date", "type": "temporal",
          "scale": {"type": "utc", "domain": [{"year": 2020, "month": 7, "date": 8, "hours": 22, "utc": true}, {"year": 2021, "month": 12, "date": 10, "hours": 17, "utc": true}]}
        },
        "y": {
          "field": "rate", "type": "quantitative",
          "scale": {"domain": [-1.64, 34.76], "nice": false, "zero": false}
        },
        "color": {
          "field": "group", "type": "nominal",
          "scale": {"domain": ["under10", "above10"], "range": ["#CD6600", "#3B5B16"]},
          "legend": {
            "title": null,
            "orient": "none",
            "direction": "horizontal",
            "legendX": 427,
            "legendY": 745,
            "symbolType": "stroke",
            "symbolStrokeWidth": 3,
            "symbolSize": 400,
            "labelFontSize": 16,
            "labelColor": "#1a1a1a",
            "labelOffset": 15,
            "columnPadding": 11,
            "labelExpr": "datum.value == 'under10' ? 'Under 10' : '10 and above'"
          }
        }
      }
    },
    {
      "description": "Sept 8 marker",
      "data": {"values": [{"date": "2021-09-08", "label": "Sept 8"}]},
      "mark": {"type": "rule", "color": "#000000", "strokeWidth": 2, "strokeDash": [7, 5]},
      "encoding": {
        "x": {"field": "date", "type": "temporal"}
      }
    },
    {
      "data": {"values": [{"date": "2021-09-08", "label": "Sept 8"}]},
      "mark": {"type": "text", "align": "right", "baseline": "middle", "dx": -5, "fontSize": 15, "color": "#1a1a1a"},
      "encoding": {
        "x": {"field": "date", "type": "temporal"},
        "y": {"datum": 31.85, "type": "quantitative"},
        "text": {"field": "label"}
      }
    },
    {
      "description": "Red pointer, upper stroke",
      "data": {"values": [{}]},
      "mark": {"type": "rule", "color": "#d81e1e", "strokeWidth": 1.6},
      "encoding": {
        "x": {"datum": {"year": 2021, "month": 11, "date": 27, "hours": 10, "utc": true}, "type": "temporal"},
        "x2": {"datum": {"year": 2021, "month": 12, "date": 15, "utc": true}},
        "y": {"datum": 20.3, "type": "quantitative"},
        "y2": {"datum": 21.6}
      }
    },
    {
      "description": "Red pointer, lower stroke",
      "data": {"values": [{}]},
      "mark": {"type": "rule", "color": "#d81e1e", "strokeWidth": 1.6},
      "encoding": {
        "x": {"datum": {"year": 2021, "month": 11, "date": 27, "hours": 10, "utc": true}, "type": "temporal"},
        "x2": {"datum": {"year": 2021, "month": 12, "date": 15, "utc": true}},
        "y": {"datum": 20.3, "type": "quantitative"},
        "y2": {"datum": 20.8}
      }
    }
  ]
}
